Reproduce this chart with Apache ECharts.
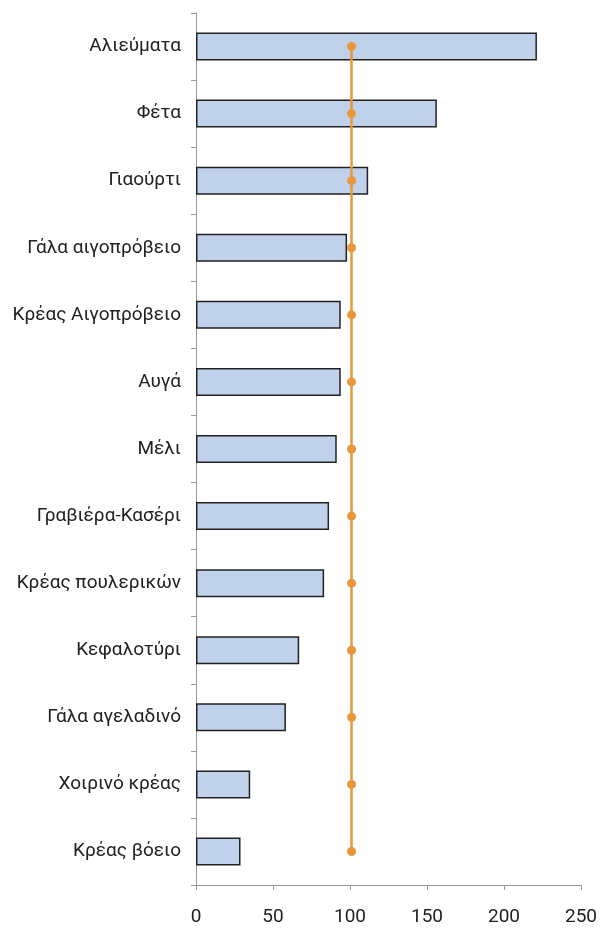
<!DOCTYPE html>
<html><head><meta charset="utf-8">
<script src="https://cdn.jsdelivr.net/npm/echarts@6/dist/echarts.min.js"></script>
<style>html,body{margin:0;padding:0;background:#fff}#c{width:600px;height:931px}</style>
</head><body><div id="c"></div>
<script>
const categories = ["Αλιεύματα","Φέτα","Γιαούρτι","Γάλα αιγοπρόβειο","Κρέας Αιγοπρόβειο","Αυγά","Μέλι","Γραβιέρα-Κασέρι","Κρέας πουλερικών","Κεφαλοτύρι","Γάλα αγελαδινό","Χοιρινό κρέας","Κρέας βόειο"];
const barValues = [221.4,156.4,111.8,98.1,94,94,91.4,86.4,83.2,67,58.4,35.2,28.9];
const lineValues = [101,101,101,101,101,101,101,101,101,101,101,101,101];
const xTicks = [0,50,100,150,200,250];

const chart = echarts.init(document.getElementById('c'), null, {renderer:'canvas'});
chart.setOption({
  animation:false,
  grid:{left:196,right:17,top:13,bottom:46,containLabel:false},
  xAxis:{type:'value',min:xTicks[0],max:xTicks[xTicks.length-1],interval:50,
    axisLine:{show:true,lineStyle:{color:'#999',width:1}},
    axisTick:{show:true,length:5,lineStyle:{color:'#999'}},
    splitLine:{show:false},
    axisLabel:{margin:23,fontFamily:'Roboto',fontSize:19,color:'#222'}},
  yAxis:{type:'category',inverse:true,data:categories,
    axisLine:{show:true,lineStyle:{color:'#999',width:1}},
    axisTick:{show:true,length:5,lineStyle:{color:'#999'}},
    axisLabel:{margin:15,fontFamily:'Roboto',fontSize:19,color:'#222'}},
  series:[
    {type:'bar',data:barValues,barWidth:28,
      itemStyle:{color:'#c0d2eb',borderColor:'#222',borderWidth:1.5}},
    {type:'line',data:lineValues,symbol:'circle',symbolSize:9,
      lineStyle:{color:'#e8983a',width:2.5},itemStyle:{color:'#e8983a'}}
  ]
});
</script></body></html>
